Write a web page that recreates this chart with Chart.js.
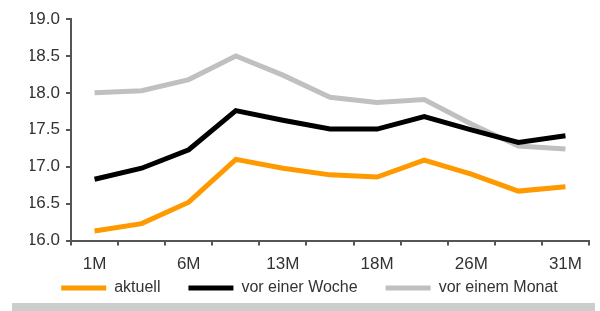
<!DOCTYPE html>
<html>
<head>
<meta charset="utf-8">
<script src="https://cdn.jsdelivr.net/npm/chart.js@4"></script>
<style>
  body { margin: 0; background: #fff; overflow: hidden; }
  #wrap { position: relative; width: 600px; height: 311px; }
  #chart-box { position: absolute; left: 0; top: 0; width: 600px; height: 310px; }
  #bar { position: absolute; left: 12px; top: 303px; width: 583px; height: 8px; background: #cdcdcd; }
</style>
</head>
<body>
<div id="wrap">
  <div id="chart-box"><canvas id="myChart"></canvas></div>
  <div id="bar"></div>
</div>
<script>
// maturities (only every other one gets a label)
const categories = ["1M", "3M", "6M", "9M", "13M", "16M", "18M", "22M", "26M", "29M", "31M"];
const aktuell = [16.13, 16.23, 16.52, 17.1, 16.98, 16.89, 16.86, 17.09, 16.9, 16.67, 16.73];
const vorEinerWoche = [16.83, 16.98, 17.23, 17.76, 17.63, 17.51, 17.51, 17.68, 17.5, 17.33, 17.42];
const vorEinemMonat = [18.0, 18.03, 18.18, 18.5, 18.24, 17.94, 17.87, 17.91, 17.58, 17.28, 17.24];
const yTicks = [16.0, 16.5, 17.0, 17.5, 18.0, 18.5, 19.0];

const textColor = "#333";
const axisColor = "#555";
const family = "'Liberation Sans', Arial, sans-serif";
const legendGap = 28; // horizontal gap between legend items
const legendLift = 4; // pull the legend a bit closer to the axis labels

// legend keeps its horizontal padding but drops the vertical one
const tightLegend = {
  id: "tightLegend",
  beforeLayout(chart) {
    const lg = chart.legend;
    if (lg && !lg._tight) {
      const fit = lg.fit;
      lg.fit = function () {
        fit.call(this);
        this.height -= legendGap;
      };
      lg._tight = true;
    }
  },
  afterLayout(chart) {
    const lg = chart.legend;
    const shift = legendGap + legendLift;
    lg.top -= shift;
    lg.height += shift;
  },
};

const ctx = document.getElementById("myChart").getContext("2d");

new Chart(ctx, {
  type: "line",
  data: {
    labels: categories,
    datasets: [
      { label: "aktuell", data: aktuell, borderColor: "#ff9900", backgroundColor: "#ff9900", borderWidth: 5 },
      { label: "vor einer Woche", data: vorEinerWoche, borderColor: "#000000", backgroundColor: "#000000", borderWidth: 5 },
      { label: "vor einem Monat", data: vorEinemMonat, borderColor: "#c0c0c0", backgroundColor: "#c0c0c0", borderWidth: 5 },
    ],
  },
  plugins: [tightLegend],
  options: {
    responsive: true,
    maintainAspectRatio: false,
    animation: false,
    elements: {
      line: { tension: 0, borderJoinStyle: "miter" },
      point: { radius: 0, hoverRadius: 0 },
    },
    layout: { padding: { top: 19, right: 11, left: 30, bottom: 0 } },
    plugins: {
      tooltip: { enabled: false },
      legend: {
        position: "bottom",
        labels: {
          color: textColor,
          font: { family, size: 16 },
          usePointStyle: true,
          pointStyle: "line",
          pointStyleWidth: 45,
          boxWidth: 45,
          boxHeight: 10,
          padding: legendGap,
        },
      },
    },
    scales: {
      x: {
        offset: true,
        grid: { offset: true, drawOnChartArea: false, drawTicks: true, tickLength: 5, color: axisColor, lineWidth: 2 },
        border: { display: true, color: axisColor, width: 2 },
        ticks: {
          autoSkip: false,
          maxRotation: 0,
          color: textColor,
          font: { family, size: 17 },
          padding: 9,
          callback: (v, i) => (i % 2 === 0 ? categories[i] : ""),
        },
      },
      y: {
        min: 16,
        max: 19,
        afterFit: (scale) => { scale.width = 41; },
        afterBuildTicks: (scale) => { scale.ticks = yTicks.map((v) => ({ value: v })); },
        grid: { drawOnChartArea: false, drawTicks: true, tickLength: 5, color: axisColor, lineWidth: 2 },
        border: { display: true, color: axisColor, width: 2 },
        ticks: {
          color: textColor,
          font: { family, size: 17 },
          padding: 6,
          callback: (v) => v.toFixed(1),
        },
      },
    },
  },
});
</script>
</body>
</html>
